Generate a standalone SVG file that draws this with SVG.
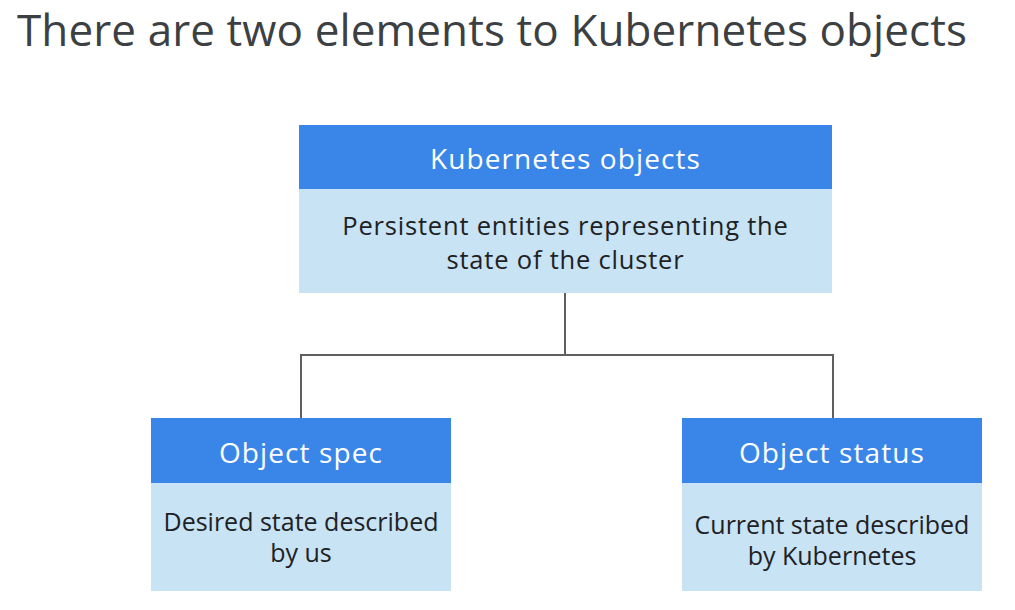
<svg xmlns="http://www.w3.org/2000/svg" width="1015" height="610" viewBox="0 0 1015 610">
<style>
.hdr{fill:#3a86e8}
.body{fill:#c8e3f4}
.ht{font-family:"Open Sans",Roboto,sans-serif;font-size:28px;letter-spacing:1.1px;fill:#ffffff;text-anchor:middle}
.bt{font-family:"Open Sans",Roboto,sans-serif;font-size:25.5px;letter-spacing:0.8px;fill:#202124;text-anchor:middle}
.bs{font-family:"Open Sans",Roboto,sans-serif;font-size:25px;fill:#202124;text-anchor:middle}
.title{font-family:"Open Sans",Roboto,sans-serif;font-size:44px;fill:#3c4043}
.conn{fill:none;stroke:#5f5f5f;stroke-width:2}
</style>
<rect width="1015" height="610" fill="#ffffff"/>
<text class="title" x="17" y="46" textLength="950" lengthAdjust="spacing">There are two elements to Kubernetes objects</text>
<g id="connectors">
<path class="conn" d="M565,293 V355 M301,418 V355 H833 V418"/>
</g>
<g id="kubernetes-objects">
<rect class="body" x="299" y="125" width="533" height="168"/>
<rect class="hdr" x="299" y="125" width="533" height="64"/>
<text class="ht" x="565.5" y="169">Kubernetes objects</text>
<text class="bt" x="565.5" y="235">Persistent entities representing the</text>
<text class="bt" x="565.5" y="269">state of the cluster</text>
</g>
<g id="object-spec">
<rect class="body" x="151" y="418" width="300" height="173"/>
<rect class="hdr" x="151" y="418" width="300" height="65"/>
<text class="ht" x="301" y="463">Object spec</text>
<text class="bs" x="301" y="531">Desired state described</text>
<text class="bs" x="301" y="562">by us</text>
</g>
<g id="object-status">
<rect class="body" x="682" y="418" width="300" height="173"/>
<rect class="hdr" x="682" y="418" width="300" height="65"/>
<text class="ht" x="832" y="463">Object status</text>
<text class="bs" x="832" y="534">Current state described</text>
<text class="bs" x="832" y="565">by Kubernetes</text>
</g>
</svg>
